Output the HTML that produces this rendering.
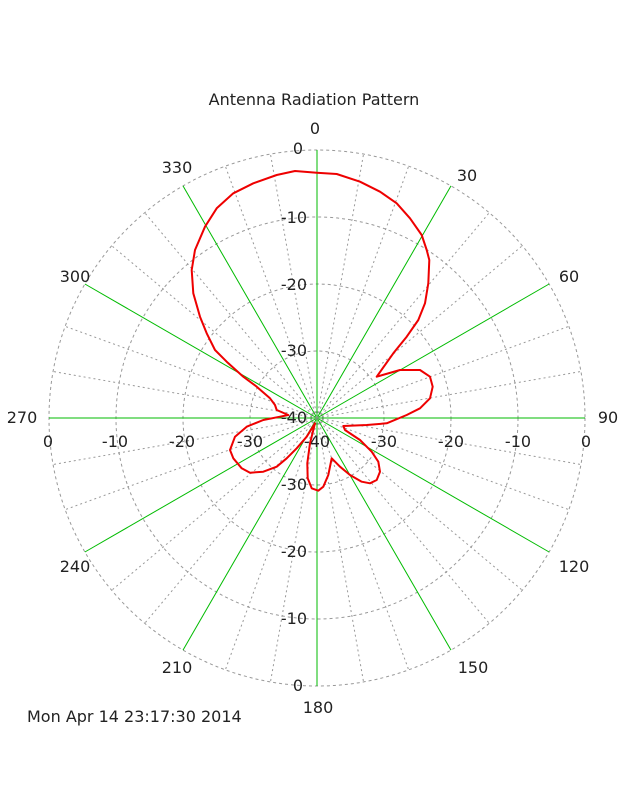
<!DOCTYPE html>
<html><head><meta charset="utf-8"><style>
html,body{margin:0;padding:0;background:#fff;width:640px;height:800px;overflow:hidden}
text{font-family:"DejaVu Sans","Liberation Sans",sans-serif;fill:#222}
</style></head><body>
<svg id="s" width="640" height="800" xmlns="http://www.w3.org/2000/svg">
<g id="grid"></g>
<text x="314" y="105" font-size="16" text-anchor="middle">Antenna Radiation Pattern</text>
<g font-size="16" text-anchor="middle">
<text x="315" y="134">0</text>
<text x="467" y="181">30</text>
<text x="569" y="282">60</text>
<text x="608" y="423">90</text>
<text x="574" y="572">120</text>
<text x="473" y="673">150</text>
<text x="318" y="713">180</text>
<text x="177" y="673">210</text>
<text x="75" y="572">240</text>
<text x="22" y="423">270</text>
<text x="75" y="282">300</text>
<text x="177" y="173">330</text>
</g>
<g font-size="16" text-anchor="end">
<text x="303" y="154">0</text>
<text x="307" y="223">-10</text>
<text x="307" y="290">-20</text>
<text x="307" y="356">-30</text>
<text x="307" y="423">-40</text>
<text x="307" y="490">-30</text>
<text x="307" y="557">-20</text>
<text x="307" y="624">-10</text>
<text x="303" y="691">0</text>
</g>
<g font-size="16" text-anchor="middle">
<text x="48" y="447">0</text>
<text x="115" y="447">-10</text>
<text x="182" y="447">-20</text>
<text x="250" y="447">-30</text>
<text x="317" y="447">-40</text>
<text x="384" y="447">-30</text>
<text x="451" y="447">-20</text>
<text x="518" y="447">-10</text>
<text x="586" y="447">0</text>
</g>
<polygon fill="none" stroke="#e00" stroke-width="2" stroke-linejoin="round" points="316.7,172.7 336.7,174 360,181.7 380,191.7 396.7,203.3 410,218.3 421.7,235 426.7,250 429.3,260 428.3,283.3 425,303.3 418.3,320 406.7,336.7 393.3,353.3 376.7,376.7 400,370 420,370 430,376.7 432.7,386.7 430,398.3 420,408.3 406.7,415 386.7,423.3 366.7,425 343.3,426 345,430 360,440 371.7,451.7 378.3,461.7 380,471.7 376.7,480 370,483.3 361.7,481.7 350,475 340,466.7 331.7,458.3 328.3,475 323.3,486.7 318.3,490.7 311.7,488.3 307.7,478.3 307.3,463.3 310,443.3 315,423.3 306.7,436.7 296.7,448.3 286.7,458.3 276.7,466.7 263.3,471.7 250,472.7 241.7,468.3 233.3,458.3 230,450 235,436.7 246.7,426.7 263.3,420 280,416.7 288.3,415 276.7,410 275,405 270,398.3 256.7,386.7 243.3,376.7 226.7,361.7 215,350 206.7,333.3 200,316.7 193.3,293.3 191.7,270 195,250 205,226.7 216.7,208.3 233.3,193.3 253.3,183.3 276.7,175 295,171"/>
<text x="27" y="722" font-size="16">Mon Apr 14 23:17:30 2014</text>
</svg>
<script>
var g=document.getElementById('grid'),cx=317,cy=418,R=268,h='';
[67,134,201,268].forEach(function(r){h+='<circle cx="'+cx+'" cy="'+cy+'" r="'+r+'" fill="none" stroke="#999" stroke-width="1" stroke-dasharray="3,3"/>';});
for(var a=0;a<360;a+=10){var t=a*Math.PI/180,x=cx+R*Math.sin(t),y=cy-R*Math.cos(t);
if(a%30==0)h+='<line x1="'+cx+'" y1="'+cy+'" x2="'+x+'" y2="'+y+'" stroke="#0b0" stroke-width="1"/>';
else h+='<line x1="'+cx+'" y1="'+cy+'" x2="'+x+'" y2="'+y+'" stroke="#999" stroke-width="1" stroke-dasharray="2,3"/>';}
g.innerHTML=h;
</script>
</body></html>
